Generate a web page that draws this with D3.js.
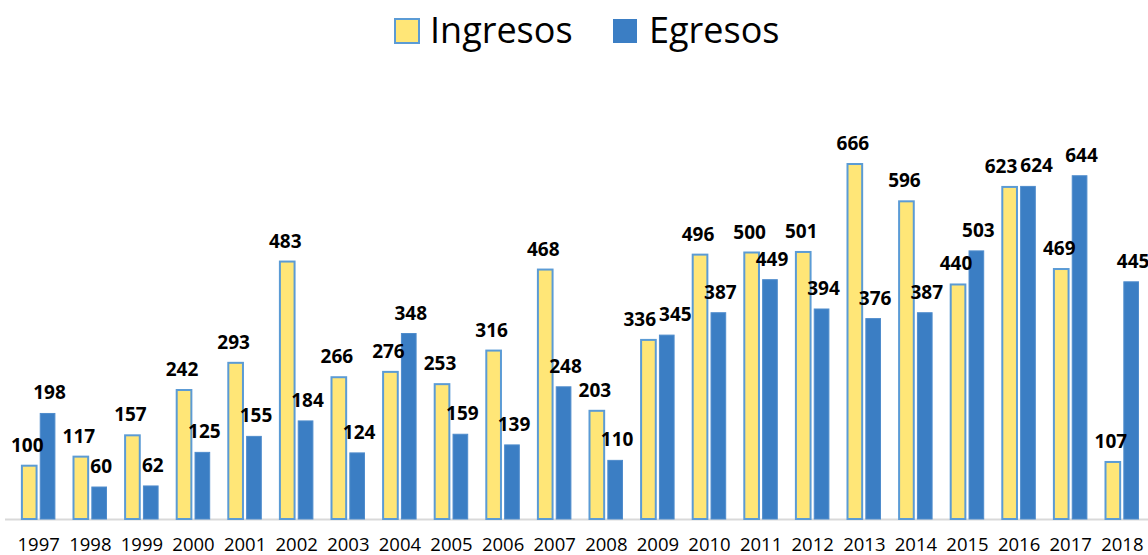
<!DOCTYPE html>
<html>
<head>
<meta charset="utf-8">
<script src="https://cdn.jsdelivr.net/npm/d3@7"></script>
<style>
  body { margin: 0; background: #fff; }
  text { font-family: "Open Sans", sans-serif; }
</style>
</head>
<body>
<div class="chart"></div>
<script>
// data
const years = ["1997", "1998", "1999", "2000", "2001", "2002", "2003", "2004", "2005", "2006", "2007",
   "2008", "2009", "2010", "2011", "2012", "2013", "2014", "2015", "2016", "2017", "2018"];
const ingresos = [100, 117, 157, 242, 293, 483, 266, 276, 253, 316, 468,
   203, 336, 496, 500, 501, 666, 596, 440, 623, 469, 107];
const egresos = [198, 60, 62, 125, 155, 184, 124, 348, 159, 139, 248,
   110, 345, 387, 449, 394, 376, 387, 503, 624, 644, 445];
const seriesNames = ["Ingresos", "Egresos"];

// setup chart
const width = 1148;
const height = 555;
const baseline = 519;
const labelSize = 19;

const svg = d3.select(".chart")
   .append("svg")
   .attr("width", width)
   .attr("height", height);

const colors = { Ingresos: "#ffe677", Egresos: "#3b7ec4" };
const strokes = { Ingresos: "#5b9bd5", Egresos: "#4f8ccc" };

const x0 = d3.scaleBand().domain(years).range([12.9, 12.9 + 22 * 51.6]);
const x1 = d3.scaleBand().domain(seriesNames).range([9, 42]).paddingInner(0.2);
const y = d3.scaleLinear().domain([0, 700]).range([baseline, baseline - 700 * 0.533]);

// axis line
svg.append("line")
   .attr("x1", 5).attr("x2", width)
   .attr("y1", baseline + 0.5).attr("y2", baseline + 0.5)
   .attr("stroke", "#d9d9d9")
   .attr("stroke-width", 2);

const rows = years.map((yr, i) => ({ year: yr, Ingresos: ingresos[i], Egresos: egresos[i] }));

const groups = svg.selectAll("g.year")
   .data(rows)
   .enter()
   .append("g")
   .attr("class", "year")
   .attr("transform", (d) => `translate(${x0(d.year)}, 0)`);

groups.selectAll("rect")
   .data((d) => seriesNames.map((k) => ({ key: k, value: d[k] })))
   .enter()
   .append("rect")
   .attr("x", (d) => x1(d.key))
   .attr("y", (d) => y(d.value))
   .attr("width", x1.bandwidth())
   .attr("height", (d) => baseline - y(d.value))
   .attr("fill", (d) => colors[d.key])
   .attr("stroke", (d) => strokes[d.key])
   .attr("stroke-width", (d) => (d.key === "Ingresos" ? 2 : 1));

// value labels, pushed apart when the pair collides
groups.each(function (d) {
   const g = d3.select(this);
   const labels = seriesNames.map((k) => {
      const t = g.append("text")
         .attr("text-anchor", "middle")
         .attr("font-size", labelSize)
         .attr("font-weight", "bold")
         .attr("fill", "#000")
         .text(d[k]);
      return {
         node: t,
         cx: x1(k) + x1.bandwidth() / 2 + (k === "Ingresos" ? -2 : 2),
         cy: y(d[k]) - 14,
         w: t.node().getComputedTextLength()
      };
   });
   const [a, b] = labels;
   const need = (a.w + b.w) / 2 + 3;
   const dist = b.cx - a.cx;
   if (Math.abs(a.cy - b.cy) < labelSize && dist < need) {
      const shift = (need - dist) / 2;
      a.cx -= shift;
      b.cx += shift;
   }
   labels.forEach((l) => l.node.attr("x", l.cx).attr("y", l.cy));
});

// x axis labels
const xAxis = d3.axisBottom(x0).tickSize(0).tickPadding(0);
const axisG = svg.append("g")
   .attr("transform", `translate(0, ${baseline})`)
   .call(xAxis);
axisG.select(".domain").remove();
axisG.selectAll("text")
   .attr("dy", 0)
   .attr("y", 32)
   .attr("font-size", 18.5)
   .attr("font-family", "Open Sans, sans-serif")
   .attr("fill", "#000");

// legend
const legendItems = [
   { key: "Ingresos", x: 394 },
   { key: "Egresos", x: 612 }
];
const legend = svg.selectAll("g.legend")
   .data(legendItems)
   .enter()
   .append("g")
   .attr("class", "legend")
   .attr("transform", (d) => `translate(${d.x}, 18)`);
legend.append("rect")
   .attr("x", 1).attr("y", 1)
   .attr("width", 24).attr("height", 24)
   .attr("fill", (d) => colors[d.key])
   .attr("stroke", (d) => strokes[d.key])
   .attr("stroke-width", (d) => (d.key === "Ingresos" ? 2 : 0));
legend.append("text")
   .attr("x", (d) => (d.key === "Ingresos" ? 36 : 37))
   .attr("y", 25)
   .attr("font-size", 36)
   .attr("fill", "#000")
   .text((d) => d.key);
</script>
</body>
</html>
